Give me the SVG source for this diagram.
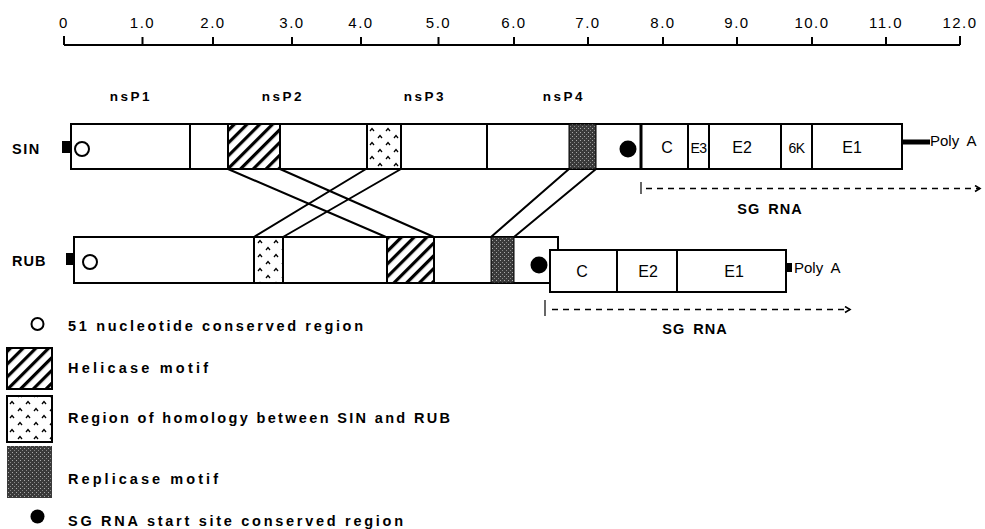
<svg xmlns="http://www.w3.org/2000/svg" width="985" height="529" viewBox="0 0 985 529">
<style>
.b{fill:#fff;stroke:#000;stroke-width:2}
.ln{stroke:#000;stroke-width:2;fill:none}
.t{font-family:"Liberation Sans",Arial,sans-serif;fill:#000}
.sc{font-size:15px;letter-spacing:1.5px}
.lb{font-size:14.5px;font-weight:bold}
.ns{font-size:13.5px;font-weight:bold;letter-spacing:2.5px}
.gl{font-size:16px}
.pa{font-size:15px;word-spacing:4px}
.dash{stroke:#000;stroke-width:1.6;stroke-dasharray:6 5;fill:none}
</style>
<defs>
<pattern id="hatch" width="9" height="9" patternUnits="userSpaceOnUse" patternTransform="rotate(45)">
<rect width="9" height="9" fill="#fff"/>
<rect x="0" y="0" width="3.2" height="9" fill="#000"/>
</pattern>
<pattern id="dots" width="16" height="14" patternUnits="userSpaceOnUse">
<rect width="16" height="14" fill="#fff"/>
<path d="M2,5 L4,2.5 L6,5 M10,12 L12,9.5 L14,12" stroke="#000" stroke-width="1.3" fill="none"/>
</pattern>
<pattern id="rep" width="4" height="4" patternUnits="userSpaceOnUse">
<rect width="4" height="4" fill="#3a3a3a"/>
<rect x="0" y="0" width="1" height="1" fill="#aaa"/>
<rect x="2" y="2" width="1" height="1" fill="#888"/>
</pattern>
<marker id="arr" markerWidth="8" markerHeight="8" refX="6" refY="4" orient="auto" markerUnits="userSpaceOnUse">
<path d="M1,1 L6,4 L1,7" stroke="#000" stroke-width="1.6" fill="none"/>
</marker>
</defs>

<g id="scale">
<path class="ln" d="M64,45 H960 M64,36 V45 M142.5,37 V45 M213,37 V45 M292,37 V45 M361,37 V45 M438.5,37 V45 M514,37 V45 M588,37 V45 M663,37 V45 M737,37 V45 M812,37 V45 M886,37 V45 M960,36 V45"/>
<g class="t sc" text-anchor="middle">
<text x="64" y="28">0</text>
<text x="142.5" y="28">1.0</text>
<text x="213" y="28">2.0</text>
<text x="292" y="28">3.0</text>
<text x="361" y="28">4.0</text>
<text x="438.5" y="28">5.0</text>
<text x="514" y="28">6.0</text>
<text x="588" y="28">7.0</text>
<text x="663" y="28">8.0</text>
<text x="737" y="28">9.0</text>
<text x="812" y="28">10.0</text>
<text x="886" y="28">11.0</text>
<text x="960" y="28">12.0</text>
</g>
</g>

<g id="nsp-labels" class="t ns" text-anchor="middle">
<text x="131" y="101">nsP1</text>
<text x="283" y="101">nsP2</text>
<text x="425" y="101">nsP3</text>
<text x="564" y="101">nsP4</text>
</g>

<g id="connectors">
<path class="ln" d="M228,169 L386,237 M280,169 L434,237 M366,169 L254,237 M401,169 L283,237 M569,169 L491,237 M596,169 L514,237"/>
</g>

<g id="SIN">
<text class="t lb" x="12" y="154" font-size="15" letter-spacing="1.5">SIN</text>
<rect x="62" y="141" width="9" height="12" fill="#000"/>
<rect class="b" x="71" y="124" width="831" height="45"/>
<rect x="228" y="124" width="52" height="45" fill="url(#hatch)" stroke="#000" stroke-width="2"/>
<rect x="367" y="124" width="34" height="45" fill="url(#dots)" stroke="#000" stroke-width="2"/>
<rect x="569" y="124" width="27" height="45" fill="url(#rep)" stroke="#000" stroke-width="1"/>
<path class="ln" d="M190,124 V169 M487,124 V169 M688,124 V169 M709,124 V169 M781,124 V169 M812,124 V169"/>
<path d="M641,124 V169" stroke="#000" stroke-width="3"/>
<circle cx="82" cy="149" r="7" fill="#fff" stroke="#000" stroke-width="2"/>
<circle cx="628" cy="149" r="8.5" fill="#000"/>
<g class="t gl" text-anchor="middle">
<text x="667" y="153">C</text>
<text x="698.5" y="153" font-size="14" letter-spacing="-0.5">E3</text>
<text x="742" y="153">E2</text>
<text x="796.5" y="153" font-size="14" letter-spacing="-0.5">6K</text>
<text x="852" y="153">E1</text>
</g>
<rect x="902" y="139.5" width="28" height="5" fill="#000"/>
<text class="t pa" x="930" y="146">Poly A</text>
<path d="M641,182 V194" stroke="#000" stroke-width="1.2"/>
<path class="dash" d="M646,188.5 H980" marker-end="url(#arr)"/>
<text class="t lb" x="770" y="214" text-anchor="middle" font-size="15.5" letter-spacing="1" word-spacing="3">SG RNA</text>
</g>

<g id="RUB">
<text class="t lb" x="12" y="266" font-size="15" letter-spacing="1">RUB</text>
<rect x="66" y="253" width="8" height="12" fill="#000"/>
<rect class="b" x="74" y="237" width="484" height="46"/>
<rect x="254" y="237" width="29" height="46" fill="url(#dots)" stroke="#000" stroke-width="2"/>
<rect x="387" y="237" width="47" height="46" fill="url(#hatch)" stroke="#000" stroke-width="2"/>
<rect x="491" y="237" width="23" height="46" fill="url(#rep)" stroke="#000" stroke-width="1"/>
<circle cx="90" cy="262" r="7" fill="#fff" stroke="#000" stroke-width="2"/>
<circle cx="539" cy="265" r="8.5" fill="#000"/>
<rect class="b" x="550" y="250" width="236" height="42"/>
<path class="ln" d="M617,250 V292 M677,250 V292"/>
<g class="t gl" text-anchor="middle">
<text x="582" y="277">C</text>
<text x="648" y="277">E2</text>
<text x="734" y="277">E1</text>
</g>
<rect x="786" y="263" width="6" height="9" fill="#000"/>
<text class="t pa" x="794" y="273">Poly A</text>
<path d="M545,300 V316" stroke="#000" stroke-width="1.2"/>
<path class="dash" d="M552,309.5 H850" marker-end="url(#arr)"/>
<text class="t lb" x="695" y="334" text-anchor="middle" font-size="15.5" letter-spacing="1" word-spacing="3">SG RNA</text>
</g>

<g id="legend">
<g id="leg-open">
<circle cx="37.5" cy="324" r="6" fill="#fff" stroke="#000" stroke-width="2"/>
<text class="t lb" x="68" y="331" textLength="295" lengthAdjust="spacing">51 nucleotide conserved region</text>
</g>
<g id="leg-helicase">
<rect x="7" y="348" width="45" height="41" fill="url(#hatch)" stroke="#000" stroke-width="2"/>
<text class="t lb" x="68" y="373" textLength="140" lengthAdjust="spacing">Helicase motif</text>
</g>
<g id="leg-homology">
<rect x="7" y="396" width="45" height="46" fill="url(#dots)" stroke="#000" stroke-width="2"/>
<text class="t lb" x="68" y="423" textLength="382" lengthAdjust="spacing">Region of homology between SIN and RUB</text>
</g>
<g id="leg-replicase">
<rect x="7" y="446" width="45" height="52" fill="url(#rep)"/>
<text class="t lb" x="68" y="484" textLength="150" lengthAdjust="spacing">Replicase motif</text>
</g>
<g id="leg-sg">
<circle cx="37.5" cy="516.5" r="7" fill="#000"/>
<text class="t lb" x="68" y="526" textLength="335" lengthAdjust="spacing">SG RNA start site conserved region</text>
</g>
</g>
</svg>
